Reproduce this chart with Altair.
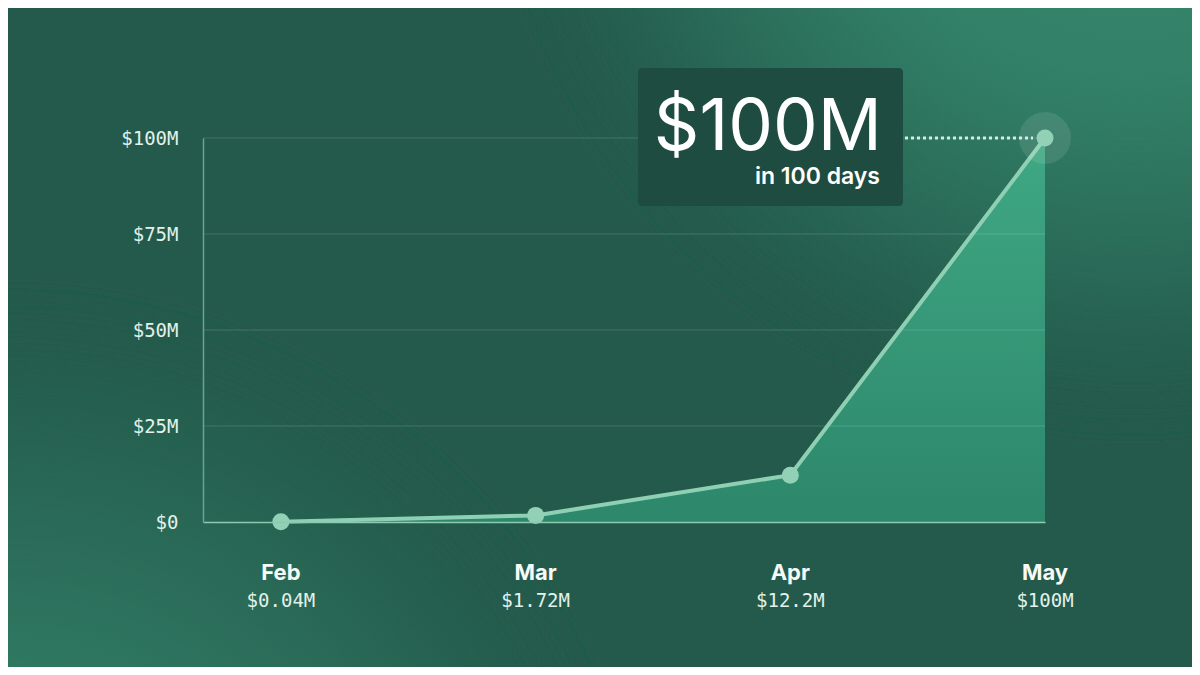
import altair as alt
import pandas as pd

months = ["Feb", "Mar", "Apr", "May"]
month_idx = [0, 1, 2, 3]
revenue_m = [0.04, 1.72, 12.2, 100.0]
value_labels = ["$0.04M", "$1.72M", "$12.2M", "$100M"]
y_ticks = [0, 25, 50, 75, 100]

df = pd.DataFrame({"month": months, "idx": month_idx, "rev": revenue_m, "vlabel": value_labels})
last = df.iloc[[3]]
grid_df = pd.DataFrame({"tick": y_ticks[1:]})

W, H = 842, 384
PAD_L, PAD_T = 195, 130
TOTAL_W, TOTAL_H = 1184, 659

xs = alt.Scale(domain=[-0.306, 3], nice=False, zero=False)
ys = alt.Scale(domain=[0, 100], nice=False)

bg_base = alt.Chart(df).mark_rect(fill="#235a4b", clip=False).encode(
    x=alt.value(-PAD_L), x2=alt.value(TOTAL_W - PAD_L),
    y=alt.value(-PAD_T), y2=alt.value(TOTAL_H - PAD_T))

glow_tr = alt.Chart(df).mark_rect(clip=False, fill={
    "gradient": "radial", "x1": 0.95, "y1": 0.04, "r1": 0, "x2": 0.95, "y2": 0.04, "r2": 0.55,
    "stops": [{"offset": 0, "color": "rgba(58,142,114,1)"},
              {"offset": 0.45, "color": "rgba(50,128,103,0.75)"},
              {"offset": 1, "color": "rgba(35,90,75,0)"}]}).encode(
    x=alt.value(-PAD_L), x2=alt.value(TOTAL_W - PAD_L),
    y=alt.value(-PAD_T), y2=alt.value(TOTAL_H - PAD_T))

glow_bl = alt.Chart(df).mark_rect(clip=False, fill={
    "gradient": "radial", "x1": 0.0, "y1": 1.0, "r1": 0, "x2": 0.0, "y2": 1.0, "r2": 0.55,
    "stops": [{"offset": 0, "color": "rgba(52,132,105,1)"},
              {"offset": 0.4, "color": "rgba(47,120,97,0.7)"},
              {"offset": 1, "color": "rgba(35,90,75,0)"}]}).encode(
    x=alt.value(-PAD_L), x2=alt.value(TOTAL_W - PAD_L),
    y=alt.value(-PAD_T), y2=alt.value(TOTAL_H - PAD_T))

base = alt.Chart(df)

area = base.mark_area(fill={
    "gradient": "linear", "x1": 0, "y1": 0, "x2": 0, "y2": 1,
    "stops": [{"offset": 0, "color": "#3fa884"}, {"offset": 1, "color": "#2d876b"}]}).encode(
    x=alt.X("idx:Q", scale=xs,
            axis=alt.Axis(labels=False, ticks=False, grid=False, title=None, zindex=1,
                          domainColor="#8ccab2", domainWidth=1.5)),
    y=alt.Y("rev:Q", scale=ys,
            axis=alt.Axis(values=y_ticks, title=None, ticks=False, zindex=1,
                          labelExpr="datum.value == 0 ? '$0' : '$' + datum.value + 'M'",
                          labelFont="DejaVu Sans Mono", labelFontSize=19, labelColor="#e2f1ea",
                          labelPadding=25, grid=False,
                          domainColor="#6aa591", domainWidth=1.5)))

grid = alt.Chart(grid_df).mark_rule(color="#ffffff", opacity=0.15, strokeWidth=1).encode(
    y=alt.Y("tick:Q", scale=ys), x=alt.value(0), x2=alt.value(W))

line = base.mark_line(color="#8fd0b4", strokeWidth=4).encode(
    x=alt.X("idx:Q", scale=xs), y=alt.Y("rev:Q", scale=ys))

halo = alt.Chart(last).mark_circle(size=2700, color="#ffffff", opacity=0.1).encode(
    x=alt.X("idx:Q", scale=xs), y=alt.Y("rev:Q", scale=ys))

pts = base.mark_circle(size=290, color="#93d1b6", opacity=1).encode(
    x=alt.X("idx:Q", scale=xs), y=alt.Y("rev:Q", scale=ys))

mlabel = base.mark_text(font="Inter", fontWeight=700, fontSize=22, color="#f6fbf8",
                        baseline="alphabetic", align="center").encode(
    x=alt.X("idx:Q", scale=xs), y=alt.value(442), text="month:N")

vlabel = base.mark_text(font="DejaVu Sans Mono", fontSize=19, color="#e2f1ea",
                        baseline="alphabetic", align="center").encode(
    x=alt.X("idx:Q", scale=xs), y=alt.value(469), text="vlabel:N")

box = alt.Chart(last).mark_rect(fill="#1f4c40", cornerRadius=4, clip=False).encode(
    x=alt.value(435), x2=alt.value(700), y=alt.value(-70), y2=alt.value(68))

big = alt.Chart(last).mark_text(font="Inter", fontSize=71, fontWeight=400, color="#ffffff",
                                align="right", baseline="alphabetic", text="$100M").encode(
    x=alt.value(679), y=alt.value(12))

sub = alt.Chart(last).mark_text(font="Inter", fontSize=23, fontWeight=600, color="#ffffff",
                                align="right", baseline="alphabetic", text="in 100 days").encode(
    x=alt.value(677), y=alt.value(46))

dotted = alt.Chart(last).mark_rule(color="#d4ece1", strokeWidth=3, strokeDash=[3, 3]).encode(
    x=alt.value(702), x2=alt.value(830), y=alt.Y("rev:Q", scale=ys))

chart = alt.layer(bg_base, glow_tr, glow_bl, area, grid, line, halo, pts, mlabel, vlabel,
                  box, big, sub, dotted).properties(
    width=W, height=H,
    padding={"left": PAD_L, "top": PAD_T, "right": TOTAL_W - PAD_L - W, "bottom": TOTAL_H - PAD_T - H},
    autosize=alt.AutoSizeParams(type="none"),
    background="#235a4b",
).configure_view(stroke=None)

chart.save("out.html", embed_options={"renderer": "svg", "actions": False})
